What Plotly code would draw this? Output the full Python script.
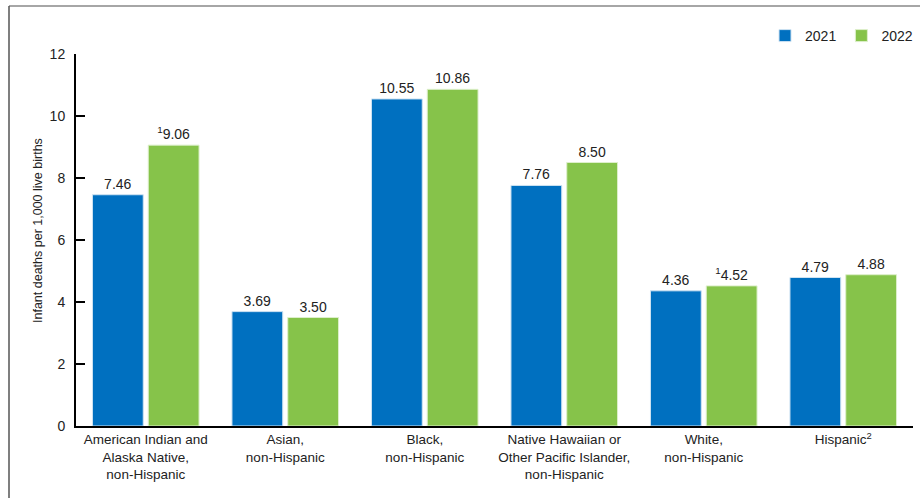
import plotly.graph_objects as go

categories = [
    "American Indian and<br>Alaska Native,<br>non-Hispanic",
    "Asian,<br>non-Hispanic",
    "Black,<br>non-Hispanic",
    "Native Hawaiian or<br>Other Pacific Islander,<br>non-Hispanic",
    "White,<br>non-Hispanic",
    "Hispanic<sup>2</sup>",
]
values_2021 = [7.46, 3.69, 10.55, 7.76, 4.36, 4.79]
values_2022 = [9.06, 3.50, 10.86, 8.50, 4.52, 4.88]
notes_2021 = ["", "", "", "", "", ""]
notes_2022 = ["1", "", "", "", "1", ""]
y_ticks = [0, 2, 4, 6, 8, 10, 12]
y_title = "Infant deaths per 1,000 live births"

BLUE = "#0070C0"
GREEN = "#86C34A"
FONT = "Liberation Sans, Arial, sans-serif"
TXT = "#222222"

def labels(vals, notes):
    return [(f"<sup>{n}</sup>" if n else "") + f"{v:.2f}" for v, n in zip(vals, notes)]

fig = go.Figure()
fig.add_trace(go.Bar(
    name="2021", x=categories, y=values_2021,
    marker=dict(color=BLUE, line=dict(color="#CFE3F2", width=1)),
    text=labels(values_2021, notes_2021), textposition="outside",
    textfont=dict(size=14, color=TXT, family=FONT), cliponaxis=False,
))
fig.add_trace(go.Bar(
    name="2022", x=categories, y=values_2022,
    marker=dict(color=GREEN, line=dict(color="#DDEFCB", width=1)),
    text=labels(values_2022, notes_2022), textposition="outside",
    textfont=dict(size=14, color=TXT, family=FONT), cliponaxis=False,
))

x0 = 76; x1 = 913; ytop = 54; ybot = 426
def px_x(p): return (p - x0) / (x1 - x0)
def px_y(p): return (ybot - p) / (ybot - ytop)

fig.update_layout(
    width=920, height=498,
    margin=dict(l=x0, r=920 - x1, t=ytop, b=498 - ybot, autoexpand=False),
    paper_bgcolor="white", plot_bgcolor="white",
    barmode="group", bargap=0.2, bargroupgap=0.09,
    font=dict(family=FONT, color=TXT, size=13),
    showlegend=True,
    legend=dict(orientation="h", x=1.006, xanchor="right", y=px_y(20), yanchor="top",
                font=dict(size=14, color=TXT, family=FONT), itemwidth=30,
                traceorder="normal"),
    xaxis=dict(showline=True, linecolor="#000", linewidth=2, ticks="",
               tickfont=dict(size=13.5, color=TXT), showgrid=False),
    yaxis=dict(range=[0, 12], tickvals=y_ticks, showline=True, linecolor="#000",
               linewidth=2, ticks="inside", ticklen=9, tickwidth=2, tickcolor="#000",
               showgrid=False, zeroline=False, tickfont=dict(size=14, color=TXT),
               ticklabelstandoff=6),
    annotations=[
        dict(text=y_title, xref="paper", yref="paper", x=px_x(38), y=px_y(231),
             xanchor="center", yanchor="middle", textangle=-90, showarrow=False,
             font=dict(size=12.5, color=TXT, family=FONT)),
    ],
    shapes=[
        dict(type="line", xref="paper", yref="paper", x0=px_x(9), x1=px_x(925),
             y0=px_y(6), y1=px_y(6), line=dict(color="#888", width=1.5)),
        dict(type="line", xref="paper", yref="paper", x0=px_x(9), x1=px_x(9),
             y0=px_y(6), y1=px_y(505), line=dict(color="#555", width=1.5)),
    ],
)

fig.write_html("out.html", config={"displayModeBar": False},
               post_script="document.body.style.margin='0';document.body.style.overflow='hidden';")
